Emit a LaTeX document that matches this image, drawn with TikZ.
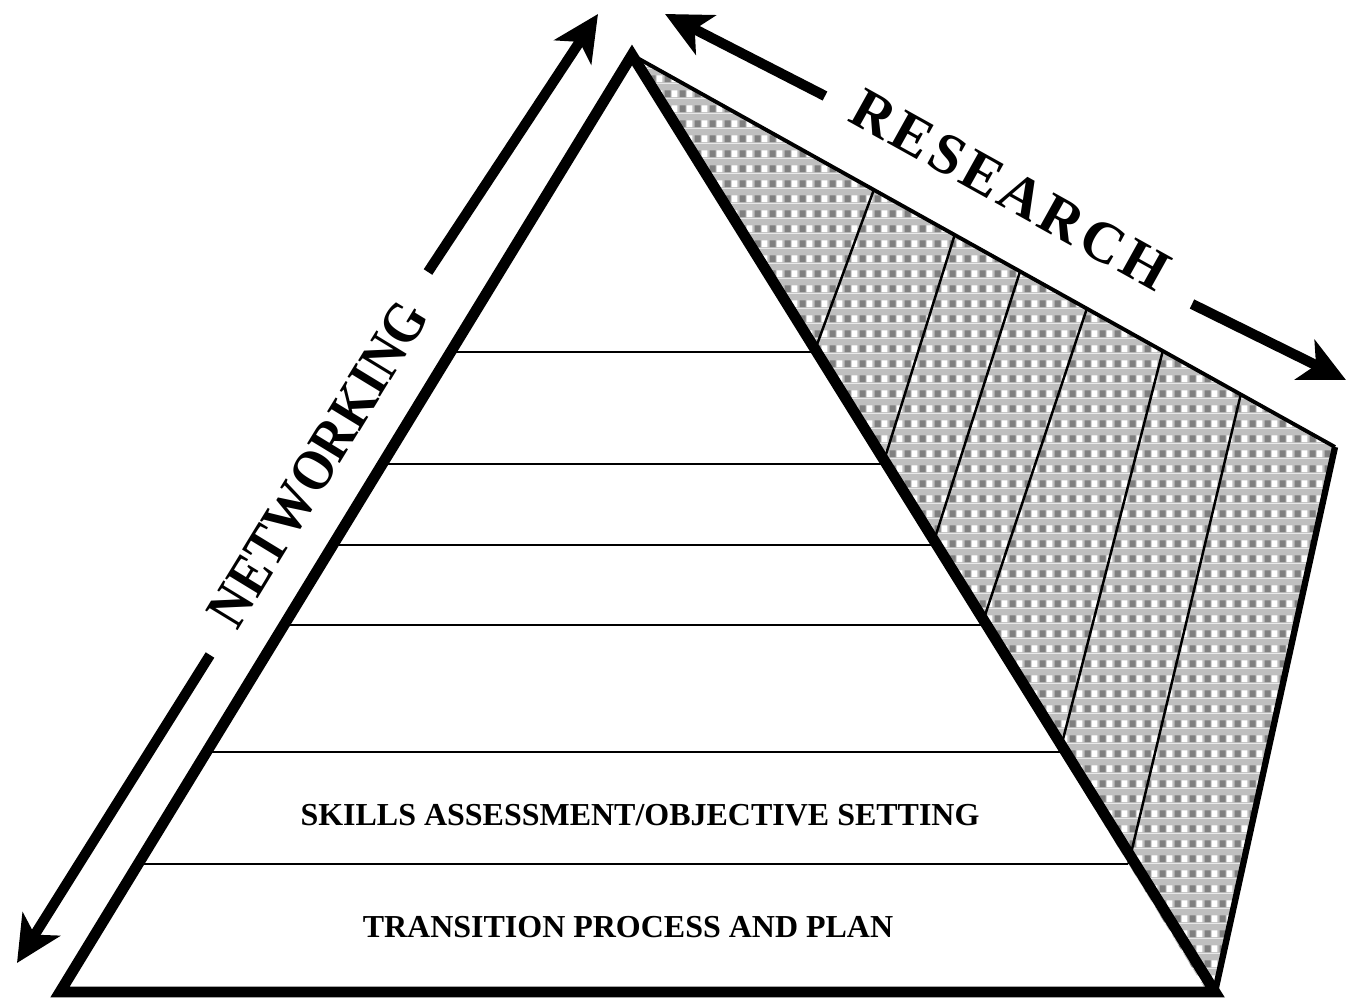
\documentclass[tikz,border=0pt]{standalone}
\usepackage{fontspec}
\setmainfont{Liberation Serif}
\usetikzlibrary{arrows.meta,calc,patterns}

\pgfdeclarepatterninherentlycolored{checks}{\pgfpointorigin}{\pgfpoint{4.3pt}{4.3pt}}{\pgfpoint{4.3pt}{4.3pt}}{
  \pgfsetfillcolor{gray!50}
  \pgfpathrectangle{\pgfpointorigin}{\pgfpoint{4.3pt}{4.3pt}}\pgfusepath{fill}
  \pgfsetfillcolor{white}
  \pgfpathrectangle{\pgfpoint{2.3pt}{0.3pt}}{\pgfpoint{1.7pt}{2pt}}\pgfusepath{fill}
  \pgfsetfillcolor{gray}
  \pgfpathrectangle{\pgfpoint{0.2pt}{0.3pt}}{\pgfpoint{1.8pt}{2pt}}\pgfusepath{fill}
}

\tikzset{
  edge/.style={line width=3.1pt},
  level/.style={line width=0.6pt},
  band/.style={line width=0.7pt},
  side/.style={line width=2.9pt, -{Stealth[length=13pt,width=12.5pt,inset=3.5pt]}},
  tag/.style={font=\bfseries\fontsize{9.1}{11}\selectfont},
  bigtag/.style={font=\bfseries\fontsize{16.5}{20}\selectfont}
}

\begin{document}
\begin{tikzpicture}[x=0.1mm, y=-0.1mm]
\useasboundingbox (0,0) rectangle (1349,998);
% corners
\coordinate (top) at (632,55);
\coordinate (bl) at (60,992);
\coordinate (br) at (1207,992);
\coordinate (rc) at (1335,447);
\coordinate (rb) at (1215,992);

% shaded research band
\fill[pattern=checks] (top) -- (rc) -- (rb) -- (br) -- cycle;
\foreach \y/\s in {352/0.344, 464/0.459, 545/0.552, 625/0.647, 752/0.755, 864/0.866} {
  \pgfmathsetmacro\t{(992-\y)/937}
  \draw[band] ($(top)!\s!(rc)$) -- ($(br)!\t!(top)$);
}
\draw[line width=1.1pt] (top) -- (rc);
\draw[line width=1.8pt] (rc) -- (rb);

% levels of the pyramid
\foreach \y in {352,464,545,625,752,864} {
  \pgfmathsetmacro\t{(992-\y)/937}
  \draw[level] ($(bl)!\t!(top)$) -- ($(br)!\t!(top)$);
}
\draw[edge] (top) -- (bl) -- (rb) -- cycle;

\node[tag] (skills) at (640,815) {SKILLS ASSESSMENT/OBJECTIVE SETTING};
\node[tag] (plan) at (628,927) {TRANSITION PROCESS AND PLAN};

% networking
\node[bigtag, rotate=58.6] (net) at (318,464) {\scalebox{0.88}[1]{NETWORKING}};
\coordinate (n1) at (428,272);
\coordinate (n1tip) at (598,14);
\coordinate (n2) at (210,655);
\coordinate (n2tip) at (17,963);
\draw[side] (n1) -- (n1tip);
\draw[side] (n2) -- (n2tip);

% research
\node[bigtag, rotate=-29.1] (res) at (1010,190)
  {R\kern1.3pt E\kern1.3pt S\kern1.3pt E\kern1.3pt A\kern1.3pt R\kern1.3pt C\kern1.3pt H};
\coordinate (r1) at (825,96);
\coordinate (r1tip) at (665,14);
\coordinate (r2) at (1192,304);
\coordinate (r2tip) at (1346,380);
\draw[side] (r1) -- (r1tip);
\draw[side] (r2) -- (r2tip);
\end{tikzpicture}
\end{document}
